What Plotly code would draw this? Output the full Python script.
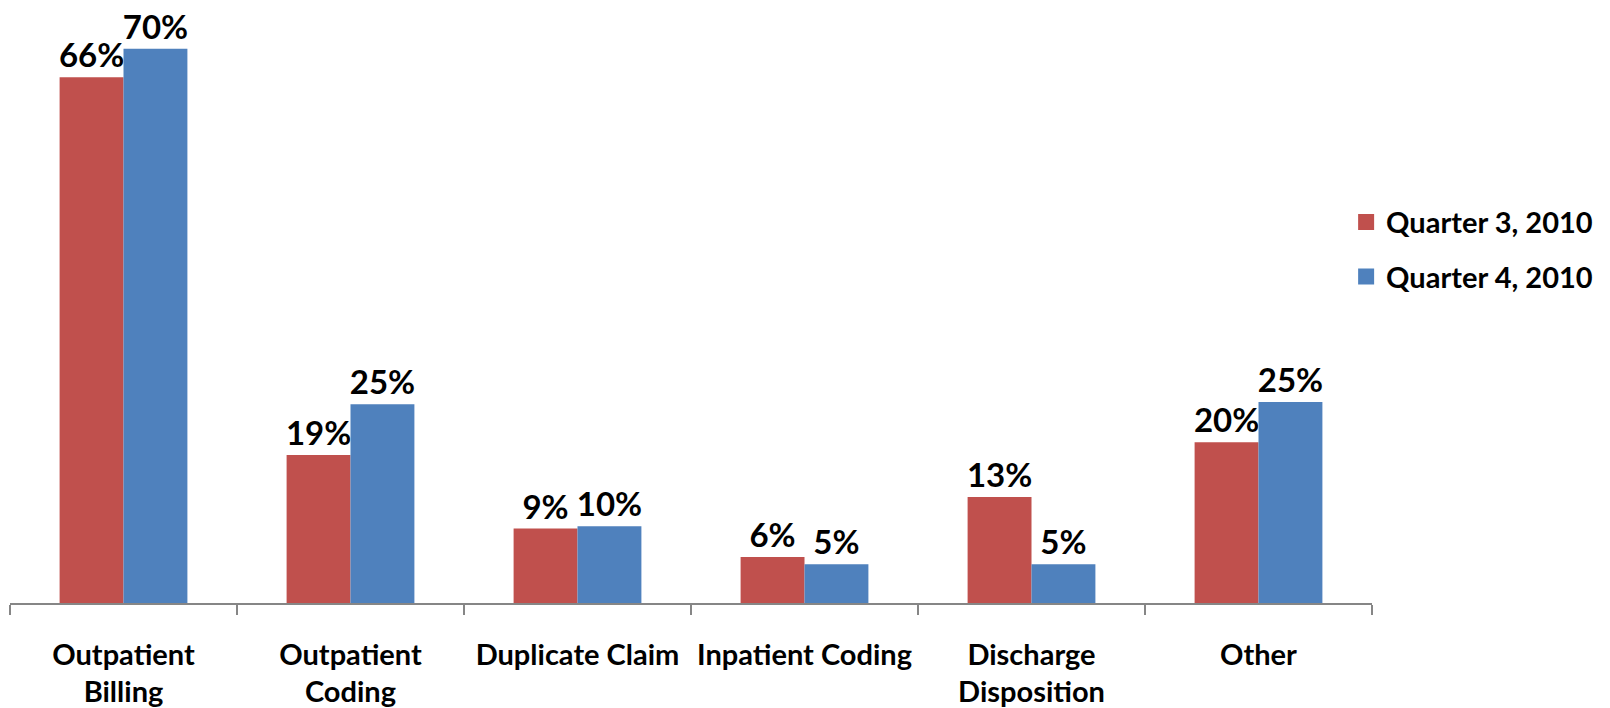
import plotly.graph_objects as go

categories = ["Outpatient<br>Billing", "Outpatient<br>Coding", "Duplicate Claim",
              "Inpatient Coding", "Discharge<br>Disposition", "Other"]
q3_values = [66.4, 18.7, 9.4, 5.8, 13.4, 20.3]
q4_values = [70.0, 25.1, 9.7, 4.9, 4.9, 25.4]
series_names = ["Quarter 3, 2010", "Quarter 4, 2010"]

RED = "#C0504D"
BLUE = "#4F81BD"
FONT = "Lato"

fig = go.Figure()
for name, vals, col in [(series_names[0], q3_values, RED), (series_names[1], q4_values, BLUE)]:
    fig.add_trace(go.Bar(
        x=categories, y=vals, name=name, legendgroup=name, showlegend=False,
        marker=dict(color=col, line=dict(width=0)),
        texttemplate="%{y:.0f}%", textposition="outside",
        textfont=dict(family=FONT, size=33, color="black", weight="bold"),
        constraintext="none", cliponaxis=False,
    ))
    # legend entry with a larger square swatch
    fig.add_trace(go.Scatter(
        x=[None], y=[None], mode="markers", name=name, legendgroup=name,
        marker=dict(symbol="square", size=18, color=col), hoverinfo="skip",
    ))

fig.update_layout(
    width=1610, height=708,
    margin=dict(l=2, r=246, t=2, b=113, autoexpand=False),
    paper_bgcolor="white", plot_bgcolor="white",
    barmode="group", bargap=0.437, bargroupgap=0,
    legend=dict(x=0.981, xanchor="left", y=0.596, yanchor="middle",
                font=dict(family=FONT, size=29, color="black", weight="bold"),
                traceorder="grouped", tracegroupgap=14, bgcolor="rgba(0,0,0,0)",
                itemwidth=30),
    xaxis=dict(showline=True, linecolor="#868686", linewidth=1.5,
               ticks="outside", tickson="boundaries", ticklen=10, tickwidth=1.5,
               tickcolor="#868686", ticklabelstandoff=25, tickangle=0,
               automargin=False,
               tickfont=dict(family=FONT, size=29, color="black", weight="bold"),
               showgrid=False, zeroline=False, fixedrange=True),
    yaxis=dict(range=[0, 74.9], visible=False, showgrid=False, zeroline=False),
)

fig.write_html("out.html")
